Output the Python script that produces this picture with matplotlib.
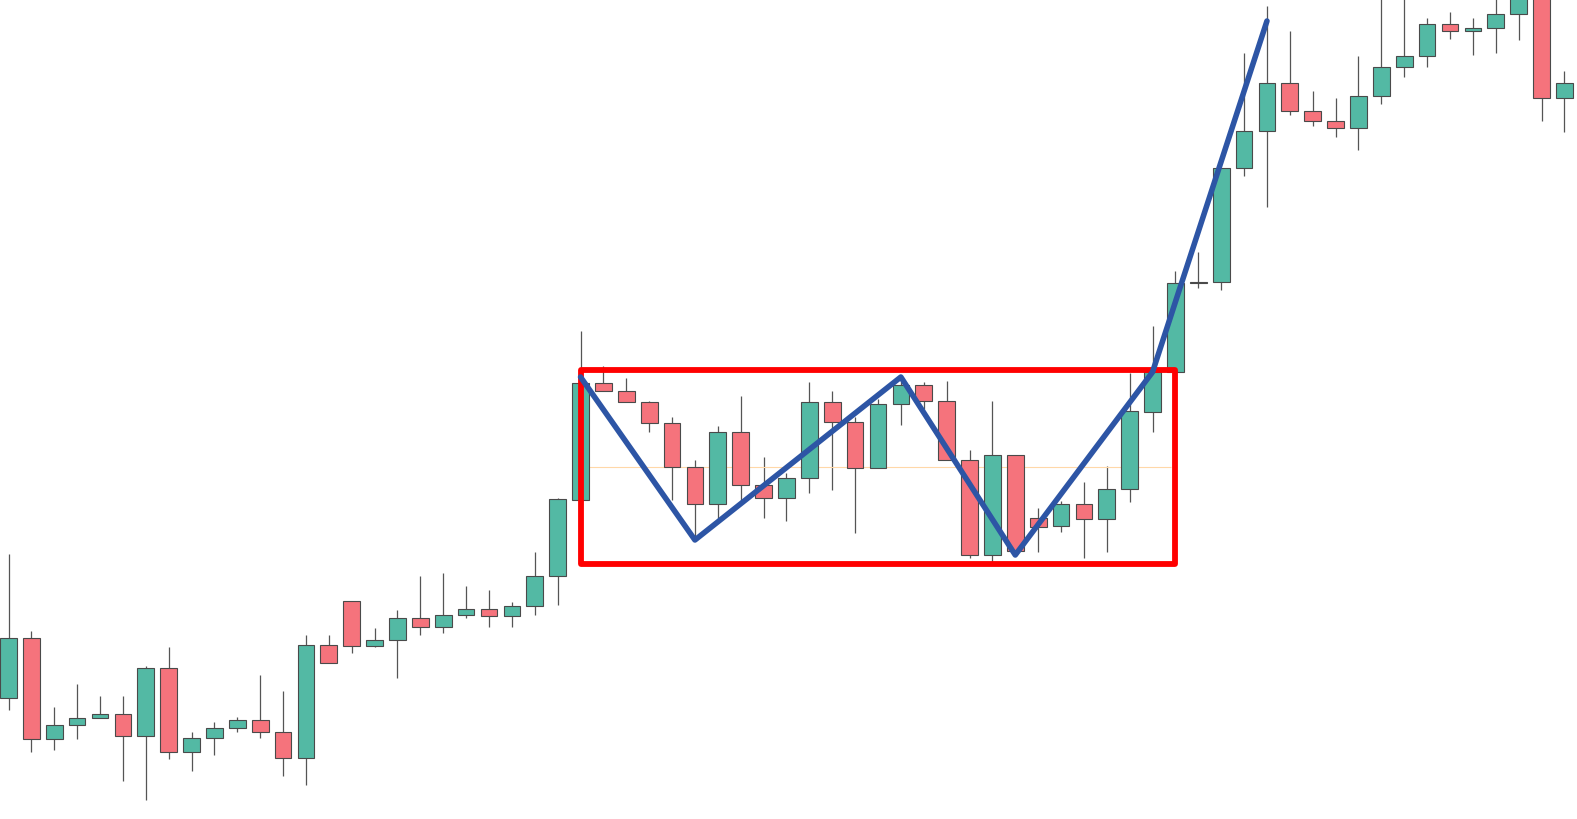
"""Double-bottom style range breakout drawn over a candlestick series."""

import matplotlib
matplotlib.use("Agg")
import matplotlib.pyplot as plt
import numpy as np
from matplotlib.patches import Rectangle

# OHLC (arbitrary price units)
opens = [12.1, 18.1, 8.0, 9.4, 10.1, 10.5, 8.3, 15.1, 6.7, 8.1,
         9.1, 9.9, 8.7, 6.1, 17.4, 21.8, 17.3, 17.9, 20.1, 19.2,
         20.4, 21.0, 20.3, 21.3, 24.3, 31.9, 43.6, 42.8, 41.7, 39.6,
         35.2, 31.5, 38.7, 33.4, 32.1, 34.1, 41.7, 39.7, 35.1, 41.5,
         43.4, 41.8, 35.9, 26.4, 36.4, 30.1, 29.3, 31.5, 30.0, 33.0,
         40.7, 44.7, 53.6, 53.7, 65.1, 68.8, 73.6, 70.8, 69.8, 69.1,
         72.3, 75.2, 76.3, 79.5, 78.8, 79.1, 80.5, 82.5, 72.1]
highs = [26.5, 18.8, 11.2, 13.5, 12.3, 12.3, 15.3, 17.2, 8.7, 9.7,
         10.2, 14.4, 12.8, 18.4, 18.4, 21.8, 19.1, 20.9, 24.3, 24.6,
         23.3, 22.9, 21.7, 26.7, 32.1, 48.8, 45.3, 44.1, 41.8, 40.2,
         35.9, 39.3, 42.3, 36.2, 34.6, 43.7, 42.8, 40.2, 42.0, 43.9,
         43.7, 43.8, 36.9, 41.8, 36.4, 31.1, 31.8, 33.7, 35.3, 44.6,
         49.3, 54.8, 56.7, 65.1, 76.6, 81.3, 78.8, 72.8, 72.1, 76.3,
         82.5, 82.5, 80.1, 80.7, 80.1, 82.5, 82.8, 82.8, 74.8]
lows = [10.9, 6.7, 6.9, 8.0, 10.1, 3.8, 1.9, 6.0, 4.8, 6.4,
        8.7, 8.1, 4.3, 3.4, 15.6, 16.6, 17.2, 14.1, 18.4, 18.6,
        20.1, 19.2, 19.2, 20.4, 21.4, 31.9, 42.8, 41.7, 38.7, 31.9,
        28.3, 30.0, 31.7, 30.1, 29.8, 32.6, 32.9, 28.6, 35.1, 39.4,
        41.0, 35.9, 26.1, 25.7, 26.5, 26.7, 28.7, 26.1, 26.7, 31.7,
        38.7, 44.7, 53.1, 52.9, 64.3, 61.2, 70.4, 69.3, 68.2, 66.9,
        71.5, 74.2, 75.2, 78.0, 76.4, 76.6, 77.9, 69.8, 68.7]
closes = [18.1, 8.0, 9.4, 10.1, 10.5, 8.3, 15.1, 6.7, 8.1, 9.1,
          9.9, 8.7, 6.1, 17.4, 15.6, 17.3, 17.9, 20.1, 19.2, 20.4,
          21.0, 20.3, 21.3, 24.3, 32.0, 43.6, 42.8, 41.7, 39.6, 35.2,
          31.5, 38.7, 33.4, 32.1, 34.1, 41.7, 39.7, 35.1, 41.5, 43.4,
          41.8, 35.9, 26.4, 36.4, 26.8, 29.2, 31.5, 30.0, 33.0, 40.8,
          44.7, 53.6, 53.7, 65.1, 68.8, 73.6, 70.8, 69.8, 69.1, 72.3,
          75.2, 76.3, 79.5, 78.8, 79.1, 80.5, 82.3, 72.1, 73.6]

# consolidation box and the W pattern drawn on top
box_start, box_end = 25, 51
box_low, box_high = 25.55, 44.9
mid_level = 35.2
mid_start, mid_end = 25.35, 50.8
pivot_idx = [25, 30, 39, 44, 50, 55]
pivot_price = [44.2, 27.9, 44.2, 26.4, 44.7, 79.8]

up_col = "#53b9a4"
down_col = "#f5737c"
edge_col = "#4a4a4a"

o = np.array(opens)
h = np.array(highs)
l = np.array(lows)
c = np.array(closes)
x = np.arange(len(o))
up = c >= o

fig = plt.figure(figsize=(15.77, 8.2), dpi=100)
ax = fig.add_axes([0, 0, 1, 1])
ax.set_axis_off()

ax.vlines(x, l, h, color="#555555", lw=0.9, zorder=1)
body_lo = np.minimum(o, c)
body_h = np.maximum(np.abs(c - o), 0.08)
ax.bar(x, body_h, bottom=body_lo, width=0.73,
       color=np.where(up, up_col, down_col),
       edgecolor=edge_col, linewidth=0.8, zorder=2)

ax.hlines(mid_level, mid_start, mid_end, color="#ffd8a8", lw=0.8, zorder=1.5)

ax.add_patch(Rectangle((box_start, box_low), box_end - box_start,
                       box_high - box_low, fill=False, edgecolor="#ff0000",
                       lw=4.2, joinstyle="round", zorder=3))
ax.plot(pivot_idx, pivot_price, color="#2d55a5", lw=4.0,
        solid_capstyle="round", solid_joinstyle="round", zorder=4)

ax.set_xlim(-0.3715, 68.55)
ax.set_ylim(0, 82)

fig.savefig("out.png", dpi=100, facecolor="white")
